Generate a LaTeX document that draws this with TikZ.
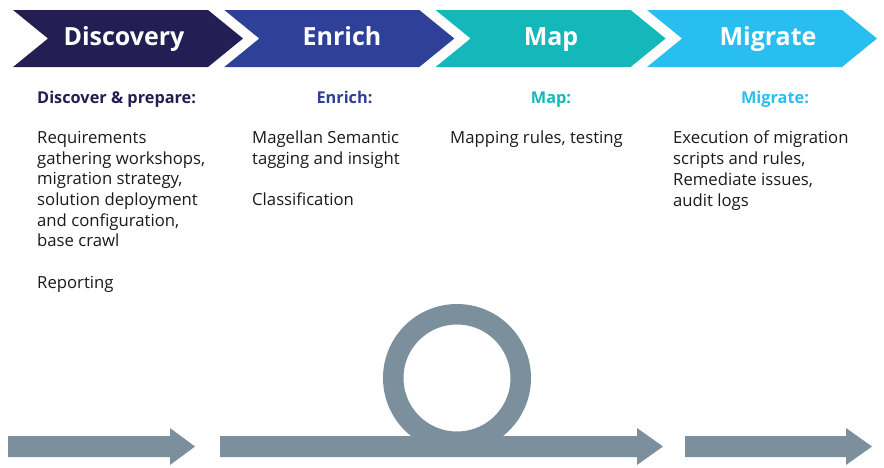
\documentclass[tikz,border=0pt]{standalone}
\usepackage{fontspec}
\setmainfont{Open Sans}
\definecolor{cDisc}{HTML}{231F54}
\definecolor{cEnr}{HTML}{2E4098}
\definecolor{cMap}{HTML}{14B8BA}
\definecolor{cMig}{HTML}{29BEF0}
\definecolor{cArr}{HTML}{7B909C}
\definecolor{cTxt}{HTML}{1A1A1A}
\newcommand\mychev[2]{\fill[#2] (#1,10) -- ++(195,0) -- ++(35,28.5) -- ++(-35,28.5) -- ++(-195,0) -- ++(35,-28.5) -- cycle;}
\newcommand\myarrow[3]{\fill[cArr] (#1,436) -- (#2,436) -- (#2,428) -- (#3,446.5) -- (#2,465) -- (#2,457) -- (#1,457) -- cycle;}
\begin{document}
\begin{tikzpicture}[x=1pt,y=-1pt,
  title/.style={anchor=base, inner sep=0, text=white, font=\fontsize{25}{30}\selectfont\bfseries},
  head/.style={anchor=base, inner sep=0, font=\fontsize{16.3}{20}\selectfont\bfseries},
  body/.style={anchor=north west, inner sep=0, align=left, text=cTxt, font=\fontsize{16.7}{20.7}\selectfont}]
\useasboundingbox (0,0) rectangle (884,467);
\mychev{13}{cDisc}
\mychev{224.3}{cEnr}
\mychev{435.6}{cMap}
\mychev{647}{cMig}
\node[title] (t1) at (124,45) {Discovery};
\node[title] (t2) at (342,45) {Enrich};
\node[title] (t3) at (551,45) {Map};
\node[title] (t4) at (768,45) {Migrate};
\node[head, anchor=base west, text=cDisc] (h1) at (37,103) {Discover \& prepare:};
\node[head, text=cEnr] (h2) at (344.5,103) {Enrich:};
\node[head, text=cMap] (h3) at (551,103) {Map:};
\node[head, text=cMig] (h4) at (775,103) {Migrate:};
\node[body] (b1) at (37,131) {Requirements\\gathering workshops,\\migration strategy,\\solution deployment\\and configuration,\\base crawl\\[20.7pt]Reporting};
\node[body] (b2) at (252,131) {Magellan Semantic\\tagging and insight\\[20.7pt]Classification};
\node[body] (b3) at (450,131) {Mapping rules, testing};
\node[body] (b4) at (673,131) {Execution of migration\\scripts and rules,\\Remediate issues,\\audit logs};
\myarrow{8}{170}{195}
\myarrow{220}{637}{663}
\draw[cArr, line width=20.5pt] (457,378) circle (63.75);
\myarrow{685}{846}{872}
\end{tikzpicture}
\end{document}
